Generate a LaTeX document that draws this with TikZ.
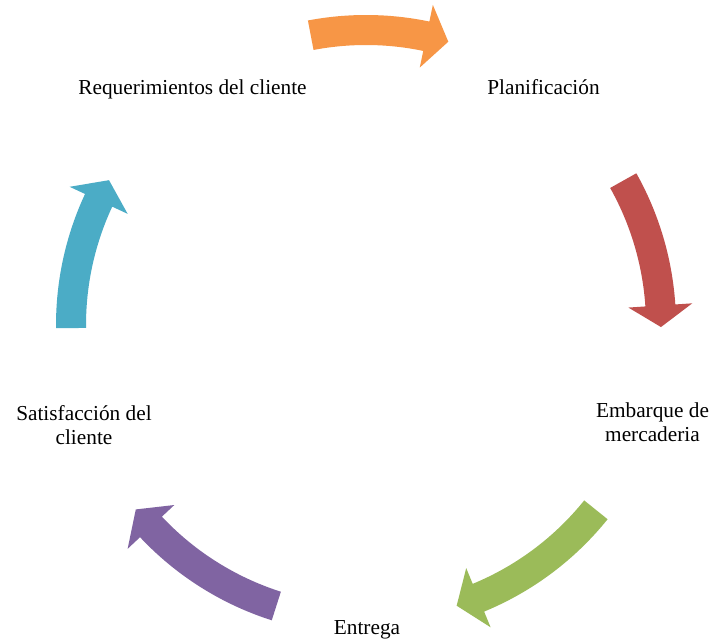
\documentclass[tikz,border=0pt]{standalone}
\usepackage{fontspec}
\setmainfont{Liberation Serif}
\begin{document}
\begin{tikzpicture}[x=1pt,y=1pt,
  label/.style={font=\fontsize{21.3}{24}\selectfont, inner sep=0pt, anchor=base, align=center, text=black},
  ringarrow/.style={draw=none}]
% page frame
\fill[white] (0,0) rectangle (710,639);
\useasboundingbox (0,0) rectangle (710,639);

\definecolor{cOrange}{HTML}{F79646}
\definecolor{cRed}{HTML}{C0504D}
\definecolor{cGreen}{HTML}{9BBB59}
\definecolor{cPurple}{HTML}{8064A2}
\definecolor{cCyan}{HTML}{4BACC6}

% curved block arrow: colour, tail angle, head-base angle, tip angle
\newcommand{\cyclearrow}[4]{%
  \fill[ringarrow, #1] (#2:310) arc[start angle=#2, end angle=#3, radius=310]
    -- (#3:327) -- (#4:295) -- (#3:263) -- (#3:280)
    arc[start angle=#3, end angle=#2, radius=280] -- cycle;}

\coordinate (C) at (366,314);
\begin{scope}[shift={(C)}]
  \cyclearrow{cOrange}{100.8}{78.2}{73.8}
  \cyclearrow{cRed}{29.3}{3.8}{-0.4}
  \cyclearrow{cGreen}{-38.8}{-67.6}{-72.1}
  \cyclearrow{cPurple}{-107.7}{-136.8}{-141.3}
  \cyclearrow{cCyan}{180.6}{155.0}{150.6}
\end{scope}

% labels (two-line nodes sit on the baseline of their last line)
\node[label] (req) at (192.5,544) {Requerimientos del cliente};
\node[label] (plan) at (543.5,544) {Planificación};
\node[label] (emb) at (652.5,197) {Embarque de\\mercaderia};
\node[label] (ent) at (367,4.5) {Entrega};
\node[label] (sat) at (84,194) {Satisfacción del\\cliente};
\end{tikzpicture}
\end{document}
